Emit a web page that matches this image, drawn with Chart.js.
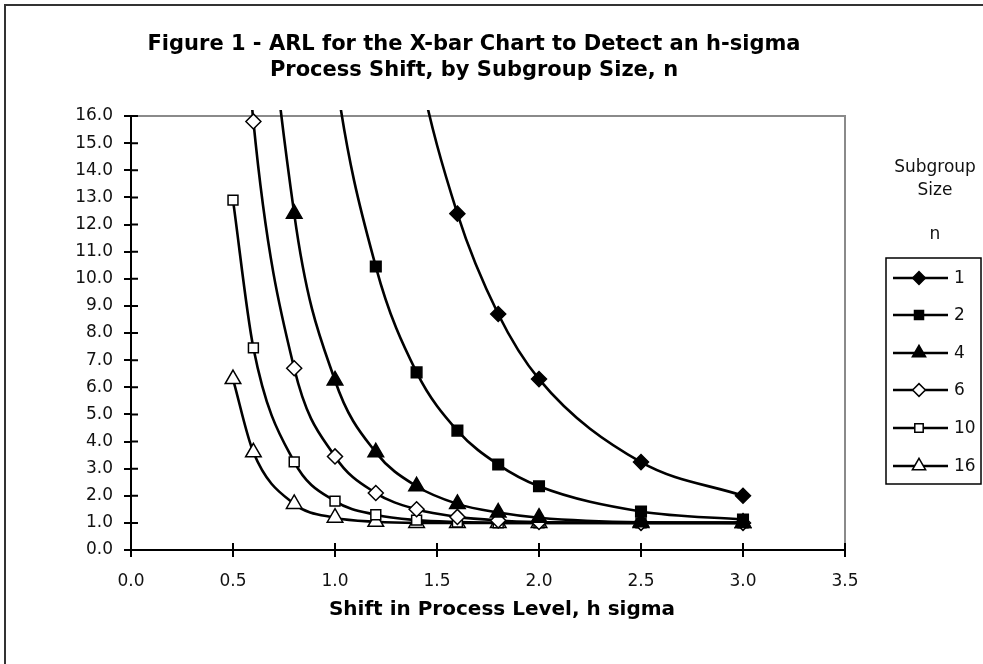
<!DOCTYPE html>
<html>
<head>
<meta charset="utf-8">
<script src="https://cdn.jsdelivr.net/npm/chart.js@4.4.1/dist/chart.umd.min.js"></script>
<style>
  body { margin: 0; background: #fff; }
  #wrap { width: 983px; height: 664px; }
</style>
</head>
<body>
<div id="wrap"><canvas id="arl-chart" width="983" height="664"></canvas></div>
<script>
// shift in process level (h sigma)
const shifts = [0.5, 0.6, 0.8, 1.0, 1.2, 1.4, 1.6, 1.8, 2.0, 2.5, 3.0];

// ARL by subgroup size, values above 16 run off the top of the plot
const arlN1 = [155, 120, 71.6, 43.9, 27.8, 18.2, 12.4, 8.7, 6.3, 3.24, 2.0];
const arlN2 = [91.7, 63.7, 32.4, 17.7, 10.45, 6.55, 4.4, 3.15, 2.35, 1.42, 1.12];
const arlN4 = [43.9, 27.8, 12.4, 6.25, 3.6, 2.35, 1.7, 1.38, 1.19, 1.02, 1.0];
const arlN6 = [26.4, 15.8, 6.7, 3.45, 2.1, 1.5, 1.22, 1.09, 1.03, 1.0, 1.0];
const arlN10 = [12.9, 7.45, 3.25, 1.8, 1.3, 1.1, 1.03, 1.0, 1.0, 1.0, 1.0];
const arlN16 = [6.3, 3.6, 1.7, 1.19, 1.04, 1.0, 1.0, 1.0, 1.0, 1.0, 1.0];

const subgroupSizes = ["1", "2", "4", "6", "10", "16"];
const xTicks = [0, 0.5, 1.0, 1.5, 2.0, 2.5, 3.0, 3.5];
const yMax = 16;

const titleLines = [
  "Figure 1 - ARL for the X-bar Chart to Detect an h-sigma",
  "Process Shift, by Subgroup Size, n",
];
const xTitle = "Shift in Process Level, h sigma";
const legendTitle = ["Subgroup", "Size", "", "n"];

const seriesValues = [arlN1, arlN2, arlN4, arlN6, arlN10, arlN16];
const markerStyles = [
  { style: "rectRot", radius: 7.5, filled: true },
  { style: "rect", radius: 7.5, filled: true },
  { style: "triangle", radius: 9, filled: true },
  { style: "rectRot", radius: 7.5, filled: false },
  { style: "rect", radius: 7, filled: false },
  { style: "triangle", radius: 9, filled: false },
];

const datasets = seriesValues.map((values, i) => ({
  label: subgroupSizes[i],
  data: shifts.map((x, j) => ({ x: x, y: values[j] })),
  borderColor: "#000",
  borderWidth: 2.6,
  backgroundColor: markerStyles[i].filled ? "#000" : "#fff",
  pointStyle: markerStyles[i].style,
  pointRadius: markerStyles[i].radius,
  pointBorderWidth: 1.5,
  pointBorderColor: "#000",
  pointBackgroundColor: markerStyles[i].filled ? "#000" : "#fff",
  cubicInterpolationMode: "monotone",
  tension: 0.4,
  clip: { left: 0, top: 6, right: 0, bottom: 0 },
}));

// ticks that cross the axis line, text, legend and frame
const decorPlugin = {
  id: "decor",
  beforeDatasetsDraw(chart) {
    const { ctx, chartArea, scales } = chart;
    ctx.save();
    // gray top and right edges of the plot area
    ctx.strokeStyle = "#8a8a8a";
    ctx.lineWidth = 2;
    ctx.beginPath();
    ctx.moveTo(chartArea.left, chartArea.top);
    ctx.lineTo(chartArea.right, chartArea.top);
    ctx.lineTo(chartArea.right, chartArea.bottom);
    ctx.stroke();
    // inner half of the tick marks
    ctx.strokeStyle = "#000";
    ctx.lineWidth = 2;
    ctx.beginPath();
    scales.x.ticks.forEach((t, i) => {
      const px = scales.x.getPixelForTick(i);
      ctx.moveTo(px, chartArea.bottom);
      ctx.lineTo(px, chartArea.bottom - 7);
    });
    scales.y.ticks.forEach((t, i) => {
      const py = scales.y.getPixelForTick(i);
      ctx.moveTo(chartArea.left, py);
      ctx.lineTo(chartArea.left + 7, py);
    });
    ctx.stroke();
    ctx.restore();
  },
  afterDraw(chart) {
    const { ctx } = chart;
    ctx.save();
    // outer frame (only left and top visible)
    ctx.strokeStyle = "#333";
    ctx.lineWidth = 2;
    ctx.beginPath();
    ctx.moveTo(5, 664);
    ctx.lineTo(5, 5);
    ctx.lineTo(983, 5);
    ctx.stroke();

    ctx.fillStyle = "#000";
    ctx.textAlign = "center";
    ctx.textBaseline = "middle";
    ctx.font = "bold 21px 'DejaVu Sans'";
    ctx.fillText(titleLines[0], 474, 45);
    ctx.fillText(titleLines[1], 474, 71);

    ctx.font = "bold 20px 'DejaVu Sans'";
    ctx.fillText(xTitle, 502, 610);

    ctx.font = "17px 'DejaVu Sans'";
    ctx.fillStyle = "#111";
    const titleY = [168, 191, 213, 235];
    legendTitle.forEach((s, i) => ctx.fillText(s, 935, titleY[i]));

    // legend box
    ctx.strokeStyle = "#000";
    ctx.lineWidth = 1.5;
    ctx.strokeRect(886, 258, 95, 226);
    const rowY = [278, 315, 353, 390, 428, 466];
    chart.data.datasets.forEach((ds, i) => {
      const y = rowY[i];
      ctx.strokeStyle = "#000";
      ctx.lineWidth = 2.5;
      ctx.beginPath();
      ctx.moveTo(893, y);
      ctx.lineTo(948, y);
      ctx.stroke();
      ctx.fillStyle = ds.pointBackgroundColor;
      ctx.strokeStyle = "#000";
      ctx.lineWidth = 1.5;
      Chart.helpers.drawPoint(ctx, {
        pointStyle: ds.pointStyle,
        radius: ds.pointRadius * 0.85,
        rotation: 0,
        borderWidth: 1.5,
      }, 919, y);
      ctx.fillStyle = "#111";
      ctx.textAlign = "left";
      ctx.fillText(ds.label, 954, y + 1);
    });
    ctx.restore();
  },
};

const ctx = document.getElementById("arl-chart").getContext("2d");
const arlChart = new Chart(ctx, {
  type: "line",
  data: { datasets: datasets },
  plugins: [decorPlugin],
  options: {
    responsive: false,
    animation: false,
    layout: { padding: { left: 0, top: 116, right: 138, bottom: 0 } },
    elements: { line: { capBezierPoints: false } },
    plugins: {
      legend: { display: false },
      title: { display: false },
      tooltip: { enabled: false },
    },
    scales: {
      x: {
        type: "linear",
        min: 0,
        max: 3.5,
        afterFit: (scale) => { scale.height = 114; },
        afterBuildTicks: (scale) => { scale.ticks = xTicks.map((v) => ({ value: v })); },
        ticks: {
          callback: (v) => v.toFixed(1),
          font: { family: "'DejaVu Sans'", size: 17 },
          color: "#111",
          padding: 14,
          maxRotation: 0,
        },
        grid: { drawOnChartArea: false, drawTicks: true, tickLength: 7, color: "#000", lineWidth: 2 },
        border: { display: true, color: "#000", width: 2 },
      },
      y: {
        type: "linear",
        min: 0,
        max: yMax,
        afterFit: (scale) => { scale.width = 131; },
        ticks: {
          stepSize: 1,
          callback: (v) => v.toFixed(1),
          font: { family: "'DejaVu Sans'", size: 17 },
          color: "#111",
          padding: 11,
        },
        grid: { drawOnChartArea: false, drawTicks: true, tickLength: 7, color: "#000", lineWidth: 2 },
        border: { display: true, color: "#000", width: 2 },
      },
    },
  },
});
</script>
</body>
</html>
